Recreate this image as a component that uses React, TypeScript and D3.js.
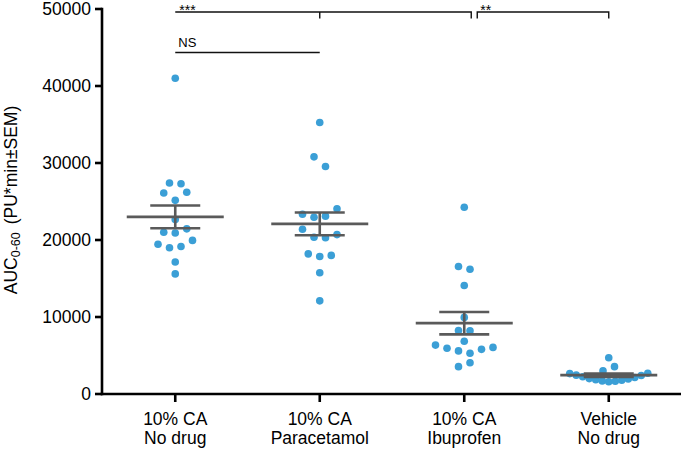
import React from 'react';
import * as d3 from 'd3';

// ---- data ----
const categories: string[][] = [
  ['10% CA', 'No drug'],
  ['10% CA', 'Paracetamol'],
  ['10% CA', 'Ibuprofen'],
  ['Vehicle', 'No drug'],
];
const noDrug = [41000, 27400, 27300, 26100, 25150, 26200, 22650, 21000, 20900, 21450, 19450, 19000, 19150, 19950, 17150, 15600];
const paracetamol = [35250, 30800, 29550, 23350, 22950, 23100, 24050, 21400, 20350, 20300, 20700, 18200, 17850, 18000, 15750, 12100];
const ibuprofen = [24250, 16550, 16200, 14100, 9950, 8250, 8200, 6850, 6350, 5950, 5600, 5300, 5800, 6050, 3550, 4050];
const vehicle = [4700, 3000, 3550, 2650, 2450, 2250, 2000, 1850, 1700, 1600, 1650, 1800, 1950, 2150, 2400, 2700];
const means = [23000, 22100, 9200, 2450];
const sems = [1480, 1480, 1450, 220];
const yTicks = [0, 10000, 20000, 30000, 40000, 50000];
const yTitle = 'AUC';
const yTitleSub = '0-60';
const yTitleRest = '(PU*min\u00B1SEM)';
const sigLabels = ['***', '**', 'NS'];

const groups = [noDrug, paracetamol, ibuprofen, vehicle];

const FONT = "'Liberation Sans', Arial, Helvetica, sans-serif";
const DOT = '#3b9fd6';
const BAR = '#5a5a5a';

function swarm(values: number[], y: (v: number) => number, rowPx = 10, spacing = 11.5, maxWidth = 78) {
  const idx = values.map((_, i) => i).sort((a, b) => values[a] - values[b] || a - b);
  const rows: number[][] = [];
  let cur: number[] = [];
  let startY = 0;
  idx.forEach((i) => {
    const py = y(values[i]);
    if (cur.length === 0) {
      cur = [i];
      startY = py;
    } else if (startY - py > rowPx) {
      rows.push(cur);
      cur = [i];
      startY = py;
    } else {
      cur.push(i);
    }
  });
  if (cur.length) rows.push(cur);
  const offsets = new Array(values.length).fill(0);
  rows.forEach((r) => {
    const members = [...r].sort((a, b) => a - b);
    const n = members.length;
    const sp = n > 1 ? Math.min(spacing, maxWidth / (n - 1)) : 0;
    members.forEach((m, k) => {
      offsets[m] = (k - (n - 1) / 2) * sp;
    });
  });
  return offsets;
}

export default function App() {
  const W = 685;
  const H = 450;
  const left = 102;
  const right = 681;
  const top = 9;
  const bottom = 394;

  const y = d3.scaleLinear().domain([0, 50000]).range([bottom, top]);
  const x = d3
    .scalePoint<number>()
    .domain(categories.map((_, i) => i))
    .range([left + 1, right])
    .padding(0.5);

  const barY = 12;
  const nsY = 52.5;

  return (
    <svg
      width={W}
      height={H}
      viewBox={`0 0 ${W} ${H}`}
      style={{ position: 'absolute', left: 0, top: 0, background: '#fff' }}
      fontFamily={FONT}
    >
      <rect width={W} height={H} fill="#fff" />

      {/* dots */}
      {groups.map((vals, g) => {
        const off = swarm(vals, (v) => y(v));
        return (
          <g key={'g' + g}>
            {vals.map((v, i) => (
              <circle key={i} cx={(x(g) as number) + off[i]} cy={y(v)} r={3.8} fill={DOT} />
            ))}
          </g>
        );
      })}

      {/* mean and SEM */}
      {means.map((m, g) => {
        const cx = x(g) as number;
        const s = sems[g];
        return (
          <g key={'e' + g} stroke={BAR} strokeWidth={2.6} fill="none">
            <line x1={cx - 48.5} x2={cx + 48.5} y1={y(m)} y2={y(m)} />
            <line x1={cx} x2={cx} y1={y(m - s)} y2={y(m + s)} />
            <line x1={cx - 25} x2={cx + 25} y1={y(m + s)} y2={y(m + s)} />
            <line x1={cx - 25} x2={cx + 25} y1={y(m - s)} y2={y(m - s)} />
          </g>
        );
      })}

      {/* axes */}
      <g stroke="#000" strokeWidth={2.6} fill="none">
        <line x1={left} x2={left} y1={top - 1.3} y2={bottom + 1.3} />
        <line x1={left - 1.3} x2={right} y1={bottom} y2={bottom} />
        {yTicks.map((t) => (
          <line key={t} x1={left - 7} x2={left} y1={y(t)} y2={y(t)} />
        ))}
        {categories.map((_, i) => (
          <line key={i} x1={x(i) as number} x2={x(i) as number} y1={bottom} y2={bottom + 8} />
        ))}
      </g>
      {yTicks.map((t) => (
        <text key={t} x={91} y={y(t)} dy="0.36em" textAnchor="end" fontSize={17.5} fill="#000">
          {t}
        </text>
      ))}
      {categories.map((c, i) => (
        <text key={i} textAnchor="middle" fontSize={17.5} fill="#000">
          <tspan x={x(i) as number} y={424.5}>{c[0]}</tspan>
          <tspan x={x(i) as number} y={444}>{c[1]}</tspan>
        </text>
      ))}

      {/* y title */}
      <text transform="translate(16.5,200) rotate(-90)" textAnchor="middle" fontSize={17.5} fill="#000">
        {yTitle}
        <tspan fontSize={12.5} dy={3}>{yTitleSub}</tspan>
        <tspan dy={-3} dx={8}>{yTitleRest}</tspan>
      </text>

      {/* significance brackets */}
      <g stroke="#111" strokeWidth={1.4} fill="none">
        <path
          d={`M${x(0)},${barY}H${(x(2) as number) + 7}V${barY + 6.5}M${x(1)},${barY}V${barY + 6.5}`}
        />
        <path d={`M${(x(2) as number) + 13},${barY + 6.5}V${barY}H${x(3)}V${barY + 6.5}`} />
        <path d={`M${x(0)},${nsY}H${x(1)}`} />
      </g>
      <text x={(x(0) as number) + 4} y={14.5} fontSize={14} fill="#000">
        {sigLabels[0]}
      </text>
      <text x={(x(2) as number) + 16} y={14.5} fontSize={14} fill="#000">
        {sigLabels[1]}
      </text>
      <text x={(x(0) as number) + 3} y={46.5} fontSize={13} fill="#000">
        {sigLabels[2]}
      </text>
    </svg>
  );
}
